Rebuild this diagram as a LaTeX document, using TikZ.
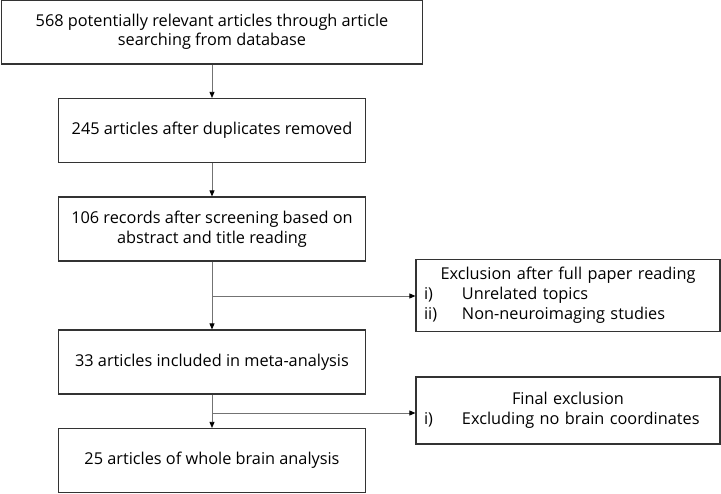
\documentclass[tikz,border=0pt]{standalone}
\usepackage{fontspec}
\setmainfont{Open Sans}
\usetikzlibrary{arrows.meta}
\begin{document}
\begin{tikzpicture}[x=1pt,y=-1pt,
		box/.style={draw=black!80,line width=1.2pt,minimum height=64pt,align=center,inner sep=0pt,font=\fontsize{16.3}{19.5}\selectfont},
		exbox/.style={draw=black!80,line width=1.2pt,minimum height=67pt,text width=288pt,inner sep=8pt,align=left,font=\fontsize{16.3}{20}\selectfont},
		flow/.style={draw=black!55,line width=0.8pt,-{Triangle[length=6pt,width=5pt,black]}}]
				\useasboundingbox (0,0) rectangle (721,494);
				\node [box,minimum width=421pt] (search) at (212,32) {568 potentially relevant articles through article\\searching from database};
				\node [box,minimum width=307pt] (dupl) at (212,130.5) {245 articles after duplicates removed};
				\node [box,minimum width=307pt] (screen) at (212,229) {106 records after screening based on\\abstract and title reading};
				\node [box,minimum width=307pt] (meta) at (212,362) {33 articles included in meta-analysis};
				\node [box,minimum width=307pt] (whole) at (212,460.5) {25 articles of whole brain analysis};
				\node [exbox] (fullpaper) at (568,295.5) {\makebox[288pt][c]{Exclusion after full paper reading}\\\makebox[38pt][l]{i)}Unrelated topics\\\makebox[38pt][l]{ii)}Non-neuroimaging studies};
				\node [exbox] (final) at (568,410.5) {\makebox[288pt][c]{Final exclusion}\\\makebox[38pt][l]{i)}Excluding no brain coordinates};
				\draw [flow] (search) -- (dupl);
				\draw [flow] (dupl) -- (screen);
				\draw [flow] (screen) -- (meta);
				\draw [flow] (meta) -- (whole);
				% side branches
				\coordinate (split1) at (212,296);
				\coordinate (split2) at (212,413);
				\draw [flow] (split1) -- (split1 -| fullpaper.west);
				\draw [flow] (split2) -- (split2 -| final.west);
\end{tikzpicture}
\end{document}
